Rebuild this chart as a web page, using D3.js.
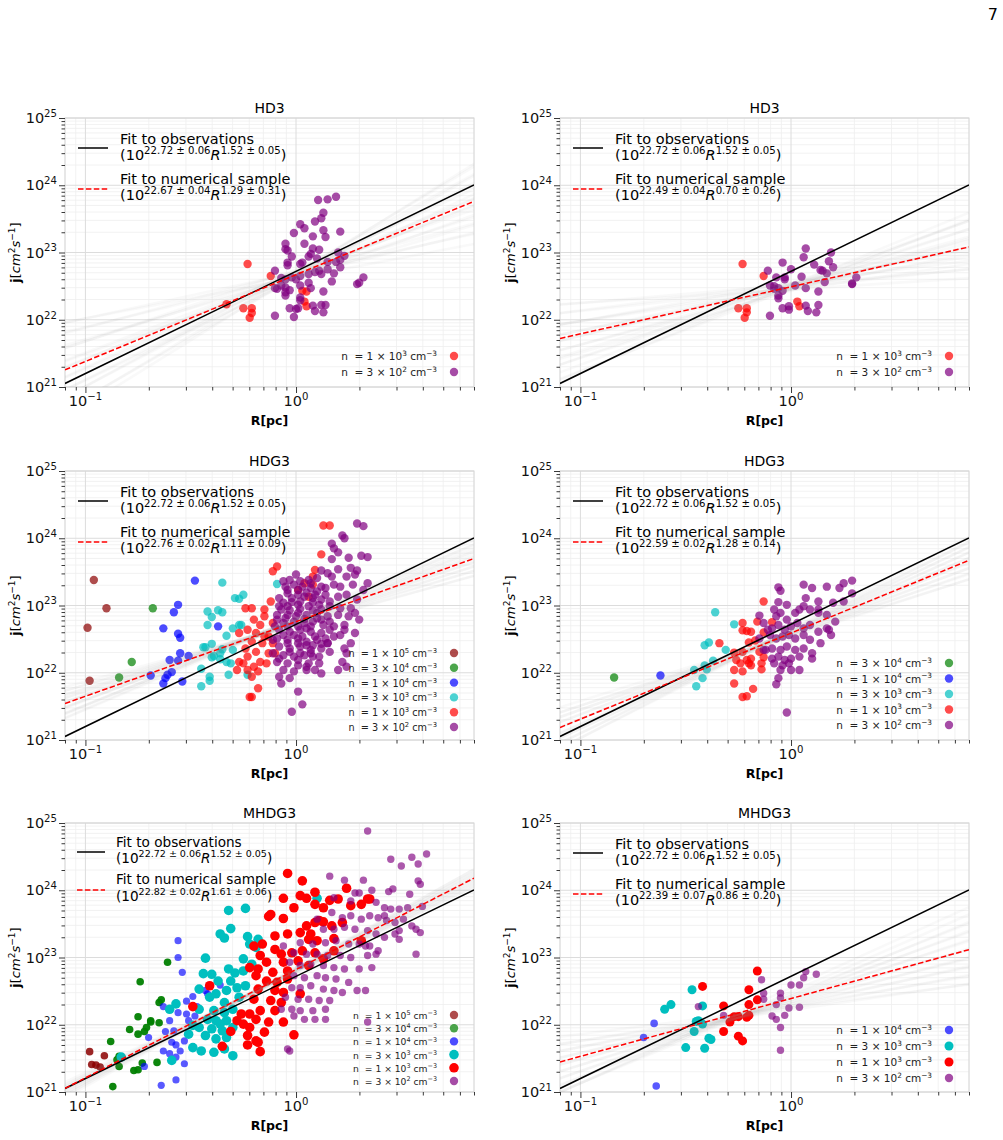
<!DOCTYPE html>
<html>
<head>
<meta charset="utf-8">
<script src="https://cdn.jsdelivr.net/npm/d3@7"></script>
<style>
  body { margin: 0; background: #fff; }
  svg { font-family: "DejaVu Sans", sans-serif; }
</style>
</head>
<body>
<div id="chart"></div>
<script>
// points are [log10 R(pc), log10 j(cm^2 s^-1)]

// fit to observations: [logA, errA, slope, errSlope]
var obsFit = [22.72, 0.06, 1.52, 0.05];
// fits to the numerical samples, one per panel
var numFits = [
  [22.67, 0.04, 1.29, 0.31],
  [22.49, 0.04, 0.70, 0.26],
  [22.76, 0.02, 1.11, 0.09],
  [22.59, 0.02, 1.28, 0.14],
  [22.82, 0.02, 1.61, 0.06],
  [22.39, 0.07, 0.86, 0.20]
];
var titles = ["HD3", "HD3", "HDG3", "HDG3", "MHDG3", "MHDG3"];

// bootstrap fits (logA, slope), drawn as the grey fan
var fanHD3L = [[22.62,0.60],[22.70,0.68],[22.65,0.76],[22.72,0.84],[22.63,0.92],[22.68,1.00],[22.74,1.06],[22.61,1.12],[22.69,1.18],[22.66,1.24],[22.71,1.30],[22.64,1.37],[22.73,1.44],[22.60,1.50],[22.68,1.57],[22.65,1.64],[22.72,1.71],[22.63,1.79],[22.70,1.87],[22.67,1.95]];
var fanHD3R = [[22.45,0.20],[22.52,0.27],[22.47,0.34],[22.54,0.40],[22.44,0.46],[22.50,0.52],[22.55,0.57],[22.46,0.62],[22.51,0.67],[22.48,0.72],[22.53,0.77],[22.45,0.82],[22.50,0.87],[22.43,0.92],[22.52,0.98],[22.47,1.04],[22.54,1.10],[22.49,1.16],[22.46,1.22],[22.51,1.28]];
var fanHDG3L = [[22.72,0.85],[22.70,0.88],[22.74,0.92],[22.71,0.95],[22.75,0.98],[22.73,1.01],[22.77,1.04],[22.74,1.07],[22.76,1.10],[22.79,1.12],[22.75,1.15],[22.78,1.18],[22.80,1.21],[22.76,1.24],[22.79,1.27],[22.81,1.30],[22.78,1.33],[22.82,1.36]];
var fanHDG3R = [[22.56,0.98],[22.53,1.02],[22.57,1.06],[22.55,1.10],[22.59,1.14],[22.56,1.18],[22.60,1.22],[22.58,1.26],[22.61,1.30],[22.57,1.34],[22.62,1.38],[22.59,1.42],[22.63,1.46],[22.60,1.50],[22.64,1.54],[22.61,1.58],[22.65,1.62]];
var fanMHDG3L = [[22.79,1.50],[22.77,1.52],[22.80,1.54],[22.78,1.56],[22.81,1.58],[22.79,1.60],[22.82,1.62],[22.80,1.63],[22.83,1.65],[22.81,1.67],[22.84,1.69],[22.82,1.71],[22.85,1.73],[22.83,1.75]];
var fanMHDG3R = [[22.26,0.40],[22.22,0.46],[22.28,0.52],[22.25,0.58],[22.31,0.64],[22.28,0.70],[22.34,0.76],[22.31,0.82],[22.37,0.88],[22.34,0.94],[22.40,1.00],[22.37,1.06],[22.43,1.12],[22.40,1.18],[22.46,1.24],[22.43,1.30],[22.49,1.36],[22.55,1.42]];

// HD3 (left)
var hd3L_1e3 = [[-0.23,22.83],[-0.12,22.65],[-0.33,22.23],[-0.25,22.17],[-0.21,22.17],[-0.21,22.10],[-0.22,22.03],[0.03,22.43],[0.05,22.42],[0.04,22.27],[0.05,22.20]];
var hd3L_3e2 = [[0.105,23.78],[0.15,23.79],[0.19,23.83],[0.13,23.59],[0.12,23.51],[0.09,23.46],[0.02,23.42],[0.04,23.36],[0.13,23.33],[-0.01,23.29],[0.21,23.31],[0.08,23.24],[0.14,23.23],[0.04,23.13],[-0.05,23.13],[0.08,23.06],[0.11,23.04],[-0.05,23.05],[-0.04,23.03],[0.07,22.98],[0.06,22.94],[-0.02,22.94],[0.10,22.91],[0.20,23.00],[0.23,22.95],[0.21,22.89],[0.19,22.86],[0.21,22.78],[-0.04,22.85],[-0.04,22.81],[0.02,22.83],[0.03,22.85],[0.15,22.86],[0.11,22.73],[0.15,22.75],[0.09,22.71],[-0.10,22.73],[-0.07,22.62],[-0.05,22.60],[-0.02,22.63],[0.00,22.60],[0.02,22.65],[0.06,22.68],[0.18,22.69],[0.12,22.68],[0.06,22.55],[0.02,22.51],[0.07,22.47],[0.13,22.42],[0.17,22.57],[0.29,22.53],[0.30,22.55],[0.32,22.63],[-0.10,22.47],[-0.05,22.48],[-0.05,22.36],[-0.05,22.41],[-0.03,22.44],[0.02,22.33],[0.02,22.29],[0.01,22.17],[-0.03,22.17],[0.00,22.16],[0.08,22.21],[0.12,22.22],[0.14,22.22],[0.09,22.13],[0.13,22.11],[-0.10,22.06],[-0.01,22.04],[-0.07,22.51],[-0.09,22.46]];

// HD3 (right)
var hd3R_1e3 = [[-0.23,22.83],[-0.13,22.65],[-0.25,22.17],[-0.21,22.17],[-0.21,22.11],[-0.22,22.03],[0.03,22.27],[0.04,22.20]];
var hd3R_3e2 = [[0.07,23.06],[0.06,22.93],[0.19,23.00],[-0.11,22.73],[-0.04,22.85],[-0.07,22.63],[-0.03,22.63],[-0.03,22.60],[0.00,22.75],[0.05,22.64],[0.11,22.82],[0.14,22.74],[0.15,22.73],[0.17,22.69],[0.18,22.87],[0.20,22.78],[0.16,22.56],[-0.08,22.50],[-0.08,22.46],[-0.06,22.47],[-0.04,22.43],[0.02,22.51],[0.07,22.47],[0.13,22.42],[-0.06,22.36],[-0.06,22.32],[-0.04,22.17],[-0.01,22.20],[-0.01,22.15],[0.07,22.21],[0.08,22.13],[0.13,22.22],[0.12,22.11],[-0.10,22.06],[0.29,22.53],[0.29,22.54],[0.31,22.63],[-0.10,22.51]];

// HDG3 (left)
var hdg3L_1e5 = [[-0.96,23.38],[-0.90,22.96],[-0.99,22.67],[-0.98,21.88]];
var hdg3L_3e4 = [[-0.68,22.96],[-0.78,22.16],[-0.84,21.93]];
var hdg3L_1e4 = [[-0.48,23.37],[-0.56,23.01],[-0.58,22.90],[-0.63,22.66],[-0.56,22.58],[-0.55,22.52],[-0.55,22.29],[-0.51,22.25],[-0.60,22.19],[-0.56,22.18],[-0.69,21.96],[-0.59,22.01],[-0.61,21.97],[-0.62,21.92],[-0.63,21.84],[-0.54,21.87],[-0.37,22.69]];
var hdg3L_3e3 = [[-0.35,23.34],[-0.42,22.91],[-0.40,22.83],[-0.37,22.93],[-0.35,22.90],[-0.42,22.71],[-0.30,22.66],[-0.33,22.55],[-0.43,22.38],[-0.40,22.43],[-0.39,22.25],[-0.40,22.23],[-0.36,22.29],[-0.36,22.20],[-0.30,22.34],[-0.45,22.06],[-0.41,21.94],[-0.41,21.88],[-0.45,21.80],[-0.32,21.97],[-0.27,22.71],[-0.26,22.71],[-0.29,23.11],[-0.27,23.10],[-0.25,23.16],[-0.44,22.38],[-0.35,22.35],[-0.33,22.16],[-0.31,22.14],[-0.09,23.32],[-0.23,21.97]];
var hdg3L_1e3 = [[0.13,24.19],[0.16,24.19],[0.12,23.76],[-0.09,23.58],[-0.11,23.51],[0.09,23.53],[0.08,23.31],[-0.12,23.06],[-0.21,22.96],[-0.24,22.96],[-0.15,22.94],[-0.15,22.84],[-0.20,22.79],[-0.11,22.74],[-0.17,22.71],[-0.23,22.64],[-0.19,22.59],[-0.13,22.54],[-0.21,22.46],[-0.16,22.44],[-0.24,22.36],[-0.19,22.31],[-0.13,22.29],[-0.23,22.24],[-0.17,22.16],[-0.25,22.14],[-0.20,22.09],[-0.14,22.14],[-0.23,22.04],[-0.18,22.02],[-0.21,21.94],[-0.22,21.64],[-0.21,21.64],[-0.18,21.77],[-0.11,22.44],[-0.10,22.29],[-0.27,22.16],[-0.28,22.04],[0.01,23.23],[0.04,23.33],[0.06,23.13],[0.08,23.43],[-0.27,22.59],[-0.15,22.54]];
var hdg3L_3e2 = [[0.29,24.22],[0.32,24.18],[0.22,24.04],[0.23,24.00],[0.17,23.92],[0.18,23.85],[0.20,23.79],[0.17,23.69],[0.25,23.71],[0.31,23.74],[0.34,23.72],[0.26,23.56],[0.29,23.52],[0.20,23.54],[0.12,23.52],[0.15,23.48],[0.00,23.46],[-0.06,23.36],[-0.03,23.38],[0.02,23.36],[0.06,23.38],[0.10,23.41],[0.17,23.43],[0.24,23.43],[0.28,23.46],[0.34,23.33],[-0.04,23.23],[0.01,23.23],[0.07,23.26],[0.12,23.28],[0.18,23.31],[0.21,23.28],[0.27,23.31],[0.32,23.23],[-0.08,23.11],[-0.02,23.11],[0.04,23.13],[0.08,23.11],[0.14,23.16],[0.20,23.13],[0.24,23.16],[0.29,23.09],[-0.08,22.99],[-0.04,22.99],[0.01,23.01],[0.06,22.99],[0.11,23.01],[0.16,22.99],[0.21,22.96],[0.26,22.96],[-0.09,22.86],[-0.04,22.86],[0.01,22.89],[0.05,22.86],[0.10,22.89],[0.15,22.84],[0.20,22.86],[-0.06,22.74],[-0.01,22.76],[0.04,22.74],[0.08,22.76],[0.13,22.71],[0.18,22.69],[0.23,22.71],[-0.08,22.64],[-0.03,22.61],[0.02,22.64],[0.07,22.61],[0.12,22.59],[0.16,22.64],[0.21,22.56],[-0.09,22.51],[-0.04,22.49],[0.01,22.51],[0.05,22.46],[0.10,22.49],[0.15,22.44],[-0.08,22.39],[-0.03,22.36],[0.02,22.39],[0.07,22.34],[0.12,22.36],[-0.06,22.26],[-0.01,22.24],[0.04,22.26],[0.08,22.24],[-0.09,22.16],[-0.04,22.14],[0.01,22.11],[0.06,22.14],[0.11,22.14],[-0.06,22.04],[-0.01,22.02],[0.05,22.04],[-0.08,21.94],[-0.03,21.92],[-0.07,21.84],[0.01,21.72],[0.03,21.53],[-0.02,21.42],[0.22,22.16],[0.24,22.09],[0.20,22.04],[0.15,22.44],
  [-0.05,23.28],[-0.01,23.31],[0.03,23.28],[0.07,23.33],[0.10,23.21],[0.14,23.26],[-0.04,23.18],[0.01,23.16],[0.05,23.19],[0.09,23.16],[0.12,23.09],[-0.06,23.04],[-0.02,23.05],[0.02,23.06],[0.08,23.05],[0.12,22.94],[0.16,23.06],[-0.07,22.94],[-0.03,22.93],[0.02,22.95],[0.08,22.93],[0.12,22.79],[-0.05,22.81],[0.00,22.84],[0.04,22.80],[0.07,22.69],[0.10,22.81],[0.16,22.76],[-0.04,22.69],[0.01,22.69],[0.05,22.66],[0.09,22.54],[0.14,22.51],[-0.06,22.56],[-0.01,22.56],[0.03,22.54],[0.08,22.41],[0.12,22.43],[-0.04,22.44],[0.01,22.44],[0.05,22.41],[-0.03,22.31],[0.02,22.29],[0.07,22.29],[0.11,22.24],[0.16,22.31],[-0.08,22.21],[0.01,22.19],[0.05,22.09],[0.09,22.04],[0.12,21.99],[-0.11,22.29],[-0.11,22.49],[-0.10,22.69],[-0.09,22.79],[0.28,22.89],[0.30,22.79],[0.25,22.84],[0.23,22.64],[0.28,22.59],[0.18,22.54],[0.26,22.44],[0.24,22.29],[0.23,22.36]];

// HDG3 (right)
var hdg3R_3e4 = [[-0.84,21.93]];
var hdg3R_1e4 = [[-0.62,21.96]];
var hdg3R_3e3 = [[-0.36,22.90],[-0.27,22.72],[-0.41,22.41],[-0.39,22.45],[-0.31,22.34],[-0.37,22.18],[-0.46,22.04],[-0.41,22.11],[-0.40,22.05],[-0.42,21.92],[-0.45,21.80]];
var hdg3R_1e3 = [[-0.13,23.06],[-0.23,22.74],[-0.16,22.76],[-0.09,22.75],[-0.23,22.63],[-0.21,22.62],[-0.19,22.61],[-0.13,22.60],[-0.34,22.44],[-0.20,22.45],[-0.17,22.48],[-0.27,22.30],[-0.23,22.31],[-0.15,22.31],[-0.26,22.19],[-0.21,22.19],[-0.20,22.14],[-0.19,22.11],[-0.14,22.14],[-0.24,22.14],[-0.27,22.04],[-0.23,22.02],[-0.14,22.05],[-0.27,21.84],[-0.18,21.76],[-0.23,21.64],[-0.21,21.65],[-0.19,22.21],[-0.13,22.23]];
var hdg3R_3e2 = [[-0.06,23.27],[-0.05,23.22],[0.06,23.31],[0.10,23.26],[0.17,23.28],[0.23,23.26],[0.25,23.33],[0.29,23.37],[-0.06,23.05],[-0.02,23.01],[0.07,23.11],[0.13,23.06],[-0.15,22.85],[-0.13,22.74],[-0.08,22.94],[-0.07,22.84],[-0.05,22.89],[-0.02,22.79],[0.02,22.89],[0.04,22.94],[0.06,22.99],[0.09,22.94],[0.13,22.89],[0.17,22.86],[-0.09,22.66],[-0.06,22.71],[-0.03,22.64],[0.00,22.69],[0.03,22.74],[0.06,22.66],[0.09,22.71],[0.13,22.61],[0.17,22.66],[0.18,22.64],[-0.10,22.56],[-0.07,22.51],[-0.04,22.54],[-0.01,22.56],[0.02,22.51],[0.06,22.56],[0.09,22.49],[0.14,22.44],[-0.12,22.34],[-0.09,22.36],[-0.05,22.34],[-0.02,22.39],[0.02,22.34],[0.06,22.36],[0.10,22.29],[-0.09,22.21],[-0.06,22.24],[-0.03,22.19],[0.00,22.21],[0.04,22.24],[0.10,22.21],[-0.08,22.14],[-0.04,22.11],[-0.01,22.14],[-0.05,22.04],[0.00,22.04],[0.04,22.04],[-0.06,21.92],[-0.07,21.83],[-0.02,21.41],[-0.11,22.64],[-0.13,22.34],[-0.15,22.51],[0.29,23.18],[0.20,23.04],[0.25,23.06],[0.13,22.94],[0.19,22.56],[0.21,22.76]];

// MHDG3 (left)
var mhdg3L_1e5 = [[-0.98,21.60],[-0.91,21.54],[-0.95,21.40],[-0.93,21.37],[-0.97,21.41]];
var mhdg3L_3e4 = [[-0.61,22.93],[-0.74,22.64],[-0.65,22.33],[-0.64,22.37],[-0.75,22.12],[-0.69,22.06],[-0.69,22.04],[-0.65,22.03],[-0.71,21.96],[-0.79,21.93],[-0.72,21.90],[-0.75,21.86],[-0.88,21.75],[-0.84,21.53],[-0.85,21.48],[-0.84,21.38],[-0.73,21.43],[-0.66,21.44],[-0.77,21.32],[-0.75,21.33],[-0.87,21.08]];
var mhdg3L_1e4 = [[-0.56,23.25],[-0.56,23.00],[-0.54,22.78],[-0.36,22.59],[-0.43,22.51],[-0.52,22.35],[-0.63,22.27],[-0.47,22.27],[-0.56,22.18],[-0.52,22.16],[-0.48,22.13],[-0.60,22.06],[-0.51,22.06],[-0.70,21.81],[-0.62,21.90],[-0.58,21.91],[-0.53,21.76],[-0.59,21.74],[-0.57,21.70],[-0.63,21.61],[-0.60,21.57],[-0.55,21.61],[-0.57,21.52],[-0.53,21.42],[-0.72,21.38],[-0.57,21.18],[-0.64,21.10],[-0.42,22.46],[-0.49,22.42]];
var mhdg3L_3e3 = [[-0.32,23.70],[-0.24,23.73],[-0.31,23.43],[-0.36,23.35],[-0.34,23.29],[-0.23,23.31],[-0.43,22.99],[-0.32,22.83],[-0.40,22.75],[-0.29,22.77],[-0.44,22.76],[-0.22,23.20],[-0.18,23.27],[-0.19,23.15],[-0.25,22.98],[-0.21,22.90],[-0.25,22.80],[-0.46,22.53],[-0.38,22.46],[-0.33,22.51],[-0.28,22.55],[-0.24,22.58],[-0.34,22.33],[-0.41,22.41],[-0.60,22.23],[-0.57,22.31],[-0.46,22.23],[-0.39,22.21],[-0.34,22.18],[-0.30,22.23],[-0.42,22.08],[-0.38,22.06],[-0.33,22.06],[-0.46,21.96],[-0.40,21.94],[-0.35,21.91],[-0.30,21.96],[-0.49,21.99],[-0.43,21.84],[-0.38,21.79],[-0.33,21.81],[-0.49,21.66],[-0.45,21.61],[-0.39,21.59],[-0.34,21.64],[-0.30,21.54],[-0.59,21.47],[-0.83,21.52],[-0.51,21.86],[0.10,23.88],[-0.37,22.65],[-0.31,22.65],[-0.27,22.41],[-0.36,22.01]];
var mhdg3L_1e3 = [[-0.04,24.25],[0.03,24.14],[0.09,23.97],[-0.06,23.88],[0.02,23.92],[0.05,23.88],[0.16,23.85],[0.24,24.03],[0.34,23.87],[0.35,23.87],[-0.12,23.64],[-0.13,23.61],[-0.06,23.58],[-0.01,23.74],[0.05,23.47],[0.11,23.55],[0.17,23.47],[-0.16,23.20],[-0.20,23.17],[-0.10,23.32],[-0.04,23.35],[0.02,23.37],[0.06,23.27],[0.10,23.25],[-0.10,23.12],[-0.07,23.05],[-0.02,23.07],[0.03,23.10],[0.09,23.07],[0.13,22.98],[-0.17,23.03],[-0.14,22.93],[-0.06,22.93],[0.01,22.95],[0.06,22.88],[-0.18,22.83],[-0.11,22.78],[-0.04,22.80],[-0.19,22.73],[-0.14,22.65],[-0.09,22.63],[-0.04,22.68],[-0.18,22.53],[-0.10,22.51],[-0.06,22.48],[-0.20,22.38],[-0.12,22.36],[-0.07,22.33],[-0.17,22.21],[-0.10,22.21],[-0.19,22.08],[-0.13,22.04],[-0.06,22.04],[-0.15,21.89],[-0.01,21.85],[-0.18,21.74],[-0.17,21.60],[-0.41,22.58],[-0.49,22.27],[-0.31,21.90],[-0.35,21.68],[-0.23,21.70],[-0.23,21.84],[-0.19,21.76],[-0.28,22.06],[-0.25,22.01],[-0.22,21.96],[-0.22,22.16],[-0.26,22.16],[0.02,22.46],[-0.22,22.85],[0.20,23.87],[0.26,23.77],[0.31,23.79],[0.31,23.25],[0.18,23.28],[0.13,23.53],[0.22,23.52],[0.09,23.52],[0.13,23.74],[0.09,23.79],[0.07,23.35],[0.18,23.10]];
var mhdg3L_3e2 = [[0.34,24.88],[0.62,24.54],[0.58,24.39],[0.55,24.49],[0.45,24.46],[0.50,24.36],[0.16,24.21],[0.23,24.15],[0.32,24.15],[0.44,23.98],[0.46,24.02],[0.54,23.94],[0.58,24.14],[0.59,24.09],[0.18,23.89],[0.26,23.84],[0.28,23.96],[0.30,23.96],[0.36,24.00],[0.38,23.82],[0.42,23.74],[0.45,23.72],[0.49,23.72],[0.53,23.74],[0.60,23.76],[0.57,23.42],[0.57,23.05],[0.59,23.37],[0.17,23.67],[0.22,23.59],[0.26,23.62],[0.31,23.57],[0.35,23.62],[0.39,23.59],[0.43,23.55],[0.47,23.52],[0.51,23.57],[0.55,23.47],[0.10,23.57],[0.13,23.42],[0.18,23.42],[0.23,23.45],[0.28,23.42],[0.34,23.40],[0.38,23.35],[0.42,23.30],[0.47,23.35],[0.02,23.22],[0.08,23.20],[0.14,23.22],[0.19,23.25],[0.25,23.20],[0.30,23.20],[0.35,23.17],[0.39,23.10],[0.30,22.83],[-0.06,23.17],[-0.01,23.07],[0.05,23.05],[0.10,23.05],[0.15,23.03],[0.21,23.03],[0.26,23.00],[0.34,23.03],[-0.03,22.93],[0.02,22.88],[0.07,22.90],[0.13,22.88],[0.18,22.85],[0.23,22.83],[-0.01,22.73],[0.04,22.70],[0.10,22.73],[0.14,22.70],[0.19,22.68],[0.25,22.63],[-0.02,22.55],[0.02,22.55],[0.07,22.58],[0.13,22.53],[0.18,22.51],[0.22,22.48],[-0.05,22.41],[0.01,22.38],[0.06,22.38],[0.11,22.36],[0.16,22.36],[0.29,22.51],[-0.07,22.23],[-0.02,22.23],[0.02,22.21],[0.08,22.21],[0.14,22.23],[0.04,22.08],[0.09,22.08],[0.14,22.08],[-0.01,22.13],[0.34,22.04],[-0.04,21.64],[-0.03,21.61],[0.33,23.17],[0.49,23.40],[0.49,23.27],[0.42,23.62],[0.38,23.05],[0.36,22.85],[0.33,22.51]];

// MHDG3 (right)
var mhdg3R_1e4 = [[-0.65,22.02],[-0.70,21.81],[-0.64,21.09]];
var mhdg3R_3e3 = [[-0.47,22.52],[-0.60,22.23],[-0.57,22.30],[-0.42,22.28],[-0.45,22.05],[-0.42,22.01],[-0.46,21.90],[-0.39,21.80],[-0.38,21.78],[-0.50,21.66],[-0.41,21.65],[-0.44,22.06]];
var mhdg3R_1e3 = [[-0.16,22.80],[-0.42,22.57],[-0.20,22.52],[-0.20,22.30],[-0.16,22.37],[-0.32,22.28],[-0.29,22.04],[-0.27,22.12],[-0.25,22.12],[-0.21,22.11],[-0.20,22.14],[-0.32,21.90],[-0.25,21.83],[-0.23,21.76]];
var mhdg3R_3e2 = [[-0.14,22.67],[-0.13,22.47],[-0.13,22.38],[-0.32,22.14],[-0.44,22.27],[-0.07,22.30],[-0.09,22.13],[-0.07,22.08],[-0.05,22.47],[-0.05,22.40],[-0.03,22.14],[-0.01,22.25],[-0.05,21.96],[-0.05,21.62],[0.00,22.59],[0.04,22.59],[0.06,22.70],[0.07,22.79],[0.12,22.75],[0.04,22.26]];

// density classes: colour and legend label (mantissa, exponent)
var densities = {
  "1e5": {color: "#8b0000", m: "1", e: "5"},
  "3e4": {color: "#008000", m: "3", e: "4"},
  "1e4": {color: "#0000ff", m: "1", e: "4"},
  "3e3": {color: "#00bfbf", m: "3", e: "3"},
  "1e3": {color: "#ff0000", m: "1", e: "3"},
  "3e2": {color: "#800080", m: "3", e: "2"}
};

var xMin = 0.08, xMax = 7;
var yMajor = [1e21, 1e22, 1e23, 1e24, 1e25];
var xMajor = [0.1, 1];

var colLeft = [65, 560], rowTop = [118, 471, 823];
var pw = 409, ph = 269;

var dflt = {op: 0.7, r: 4.2};
var panels = [
  {i: 0, c: 0, r: 0, fan: fanHD3L, sets: [["1e3", hd3L_1e3], ["3e2", hd3L_3e2]],
   leg: {fs: 10.5, step: 16, off: 15}},
  {i: 1, c: 1, r: 0, fan: fanHD3R, sets: [["1e3", hd3R_1e3], ["3e2", hd3R_3e2]],
   leg: {fs: 10.5, step: 16, off: 15}},
  {i: 2, c: 0, r: 1, fan: fanHDG3L, sets: [["1e5", hdg3L_1e5], ["3e4", hdg3L_3e4], ["1e4", hdg3L_1e4], ["3e3", hdg3L_3e3], ["1e3", hdg3L_1e3], ["3e2", hdg3L_3e2]],
   leg: {fs: 9.7, step: 14.8, off: 13}},
  {i: 3, c: 1, r: 1, fan: fanHDG3R, sets: [["3e4", hdg3R_3e4], ["1e4", hdg3R_1e4], ["3e3", hdg3R_3e3], ["1e3", hdg3R_1e3], ["3e2", hdg3R_3e2]],
   leg: {fs: 10.5, step: 15.5, off: 15}},
  {i: 4, c: 0, r: 2, fan: fanMHDG3L, sets: [["1e5", mhdg3L_1e5], ["3e4", mhdg3L_3e4], ["1e4", mhdg3L_1e4], ["3e3", mhdg3L_3e3], ["1e3", mhdg3L_1e3], ["3e2", mhdg3L_3e2]],
   leg: {fs: 9.2, step: 13.2, off: 11}, small: true,
   style: {"1e5": {op: 0.85, r: 3.8}, "3e4": {op: 0.95, r: 3.8}, "1e4": {op: 0.65, r: 3.6},
           "3e3": {op: 1, r: 4.8}, "1e3": {op: 1, r: 4.8}, "3e2": {op: 0.65, r: 3.7}},
   legStyle: {"3e3": {op: 1, r: 4.8}, "1e3": {op: 1, r: 4.8}}},
  {i: 5, c: 1, r: 2, fan: fanMHDG3R, sets: [["1e4", mhdg3R_1e4], ["3e3", mhdg3R_3e3], ["1e3", mhdg3R_1e3], ["3e2", mhdg3R_3e2]],
   leg: {fs: 10.5, step: 16, off: 14},
   style: {"1e4": {op: 0.65, r: 3.8}, "3e3": {op: 1, r: 4.5}, "1e3": {op: 1, r: 4.5}, "3e2": {op: 0.65, r: 3.7}},
   legStyle: {"3e3": {op: 1, r: 4.5}, "1e3": {op: 1, r: 4.5}}}
];

var svg = d3.select("#chart").append("svg")
  .attr("width", 1003).attr("height", 1140);

svg.append("text").attr("x", 998).attr("y", 20).attr("text-anchor", "end")
  .style("font-size", "16px").text("7");

// text with superscripts / italics: parts = [{t, sup, it, b}]
function rich(sel, parts, fs) {
  var cur = 0;
  parts.forEach(function(p) {
    var target = p.sup ? -fs * 0.42 : 0;
    var ts = sel.append("tspan").attr("dy", target - cur).text(p.t);
    cur = target;
    if (p.sup) ts.style("font-size", (fs * 0.7) + "px");
    if (p.it) ts.style("font-style", "italic");
    if (p.b) ts.style("font-weight", "bold");
  });
}

function minorTicks(lo, hi) {
  var out = [];
  for (var e = Math.floor(Math.log10(lo)); e <= Math.ceil(Math.log10(hi)); e++) {
    for (var k = 2; k <= 9; k++) {
      var v = k * Math.pow(10, e);
      if (v >= lo * 0.999 && v <= hi * 1.001) out.push(v);
    }
  }
  return out;
}

function drawPanel(p) {
  var g = svg.append("g")
    .attr("transform", "translate(" + colLeft[p.c] + "," + rowTop[p.r] + ")");

  var x = d3.scaleLog().domain([xMin, xMax]).range([0, pw]);
  var y = d3.scaleLog().domain([1e21, 1e25]).range([ph, 0]);
  var xMinor = minorTicks(xMin, xMax), yMinor = minorTicks(1e21, 1e25);

  var clipId = "clip" + p.i;
  g.append("clipPath").attr("id", clipId).append("rect")
    .attr("width", pw).attr("height", ph);

  // grid
  var grid = g.append("g");
  grid.selectAll(".gxm").data(xMinor).enter().append("line")
    .attr("x1", d => x(d)).attr("x2", d => x(d)).attr("y1", 0).attr("y2", ph)
    .attr("stroke", "#efefef").attr("stroke-width", 0.8);
  grid.selectAll(".gym").data(yMinor).enter().append("line")
    .attr("x1", 0).attr("x2", pw).attr("y1", d => y(d)).attr("y2", d => y(d))
    .attr("stroke", "#efefef").attr("stroke-width", 0.8);
  grid.selectAll(".gx").data(xMajor).enter().append("line")
    .attr("x1", d => x(d)).attr("x2", d => x(d)).attr("y1", 0).attr("y2", ph)
    .attr("stroke", "#dcdcdc").attr("stroke-width", 1);
  grid.selectAll(".gy").data(yMajor).enter().append("line")
    .attr("x1", 0).attr("x2", pw).attr("y1", d => y(d)).attr("y2", d => y(d))
    .attr("stroke", "#dcdcdc").attr("stroke-width", 1);

  // frame
  g.append("rect").attr("width", pw).attr("height", ph)
    .attr("fill", "none").attr("stroke", "#d6d6d6").attr("stroke-width", 1);

  // axes (ticks only)
  function tickAxis(axis, vals, size, tr) {
    var a = g.append("g").attr("transform", tr)
      .call(axis.tickValues(vals).tickSize(size).tickFormat(""));
    a.select(".domain").remove();
    a.selectAll(".tick line").attr("stroke", "#222").attr("stroke-width", 0.9);
  }
  tickAxis(d3.axisLeft(y), yMajor, 6, "translate(0,0)");
  tickAxis(d3.axisLeft(y), yMinor, 3.5, "translate(0,0)");
  tickAxis(d3.axisBottom(x), xMajor, 6, "translate(0," + ph + ")");
  tickAxis(d3.axisBottom(x), xMinor, 3.5, "translate(0," + ph + ")");

  // tick labels 10^n
  yMajor.forEach(function(v) {
    var t = g.append("text").attr("x", -8).attr("y", y(v) + 5)
      .attr("text-anchor", "end").style("font-size", "14.5px").attr("fill", "#111");
    rich(t, [{t: "10"}, {t: String(Math.round(Math.log10(v))), sup: true}], 14.5);
  });
  xMajor.forEach(function(v) {
    var t = g.append("text").attr("x", x(v)).attr("y", ph + 19)
      .attr("text-anchor", "middle").style("font-size", "14.5px").attr("fill", "#111");
    var e = Math.round(Math.log10(v));
    rich(t, [{t: "10"}, {t: e < 0 ? "\u2212" + (-e) : String(e), sup: true}], 14.5);
  });

  // points
  var pts = g.append("g").attr("clip-path", "url(#" + clipId + ")");
  p.sets.forEach(function(s) {
    var st = (p.style && p.style[s[0]]) || dflt;
    pts.append("g").selectAll("circle").data(s[1]).enter().append("circle")
      .attr("cx", d => x(Math.pow(10, d[0])))
      .attr("cy", d => y(Math.pow(10, d[1])))
      .attr("r", st.r)
      .attr("fill", densities[s[0]].color)
      .attr("fill-opacity", st.op);
  });

  // fits
  var lines = g.append("g").attr("clip-path", "url(#" + clipId + ")");
  var ends = x.domain();
  function fitPath(a, b) {
    return d3.line()
      .x(d => x(d))
      .y(d => y(Math.pow(10, a + b * Math.log10(d))))(ends);
  }
  lines.selectAll(".fan").data(p.fan).enter().append("path")
    .attr("d", d => fitPath(d[0], d[1]))
    .attr("fill", "none").attr("stroke", "#8a8a8a")
    .attr("stroke-opacity", 0.055).attr("stroke-width", 2.6);
  var nf = numFits[p.i];
  lines.append("path").attr("d", fitPath(obsFit[0], obsFit[2]))
    .attr("fill", "none").attr("stroke", "#000").attr("stroke-width", 1.5);
  lines.append("path").attr("d", fitPath(nf[0], nf[2]))
    .attr("fill", "none").attr("stroke", "#ff0000").attr("stroke-width", 1.5)
    .attr("stroke-dasharray", "5.5,2.4");

  // fit legend (upper left)
  var fs = p.small ? 13.6 : 14.5;
  var rowsY = p.small ? [24, 40, 61, 78] : [26, 42, 66, 82];
  var sampY = p.small ? [29, 67] : [30, 71];
  var sx0 = p.small ? 12 : 13, sx1 = p.small ? 40 : 43, tx = p.small ? 51 : 55;
  var fitEntries = [
    {label: "Fit to observations", f: obsFit, color: "#000", dash: null},
    {label: "Fit to numerical sample", f: nf, color: "#ff0000", dash: "5.5,2.4"}
  ];
  fitEntries.forEach(function(e, k) {
    g.append("line").attr("x1", sx0).attr("x2", sx1)
      .attr("y1", sampY[k]).attr("y2", sampY[k])
      .attr("stroke", e.color).attr("stroke-width", 1.5)
      .attr("stroke-dasharray", e.dash);
    g.append("text").attr("x", tx).attr("y", rowsY[2 * k])
      .style("font-size", fs + "px").text(e.label);
    var t = g.append("text").attr("x", tx).attr("y", rowsY[2 * k + 1])
      .style("font-size", fs + "px");
    rich(t, [
      {t: "(10"}, {t: e.f[0].toFixed(2) + " \u00b1 " + e.f[1].toFixed(2), sup: true},
      {t: "R", it: true}, {t: e.f[2].toFixed(2) + " \u00b1 " + e.f[3].toFixed(2), sup: true},
      {t: ")"}
    ], fs);
  });

  // density legend (lower right, markers after labels)
  var n = p.sets.length;
  var mx = pw - 20;
  p.sets.forEach(function(s, k) {
    var yy = ph - p.leg.off - (n - 1 - k) * p.leg.step;
    var ls = (p.legStyle && p.legStyle[s[0]]) || {op: 0.7, r: 4.2};
    var dd = densities[s[0]];
    g.append("circle").attr("cx", mx).attr("cy", yy).attr("r", ls.r)
      .attr("fill", dd.color).attr("fill-opacity", ls.op);
    var t = g.append("text").attr("x", mx - 17).attr("y", yy + 4)
      .attr("text-anchor", "end").style("font-size", p.leg.fs + "px").attr("fill", "#222");
    rich(t, [
      {t: "n\u00a0\u00a0= " + dd.m + " \u00d7 10"}, {t: dd.e, sup: true},
      {t: " cm"}, {t: "\u22123", sup: true}
    ], p.leg.fs);
  });

  // title and axis labels
  g.append("text").attr("x", pw / 2).attr("y", -5).attr("text-anchor", "middle")
    .style("font-size", "14px").text(titles[p.i]);
  g.append("text").attr("x", pw / 2).attr("y", ph + 38).attr("text-anchor", "middle")
    .style("font-size", "12.5px").style("font-weight", "bold").text("R[pc]");
  var yl = g.append("text")
    .attr("transform", "translate(-45," + (ph / 2) + ") rotate(-90)")
    .attr("text-anchor", "middle").style("font-size", "13px");
  rich(yl, [
    {t: "j", b: true}, {t: "["}, {t: "cm", it: true}, {t: "2", sup: true},
    {t: "s", it: true}, {t: "\u22121", sup: true}, {t: "]"}
  ], 13);
}

panels.forEach(drawPanel);
</script>
</body>
</html>
